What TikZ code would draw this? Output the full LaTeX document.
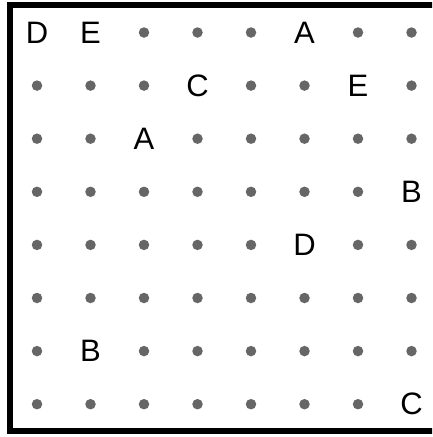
\documentclass[tikz,border=0pt]{standalone}
\usepackage{fontspec}
\setmainfont{Liberation Sans}
\definecolor{dotgray}{HTML}{666666}
\begin{document}
\begin{tikzpicture}[x=1pt,y=1pt,
  dotmark/.style={circle,fill=dotgray,inner sep=0pt,minimum size=10.5pt},
  letter/.style={inner sep=0pt,font=\fontsize{31}{31}\selectfont},
  frame/.style={draw=black,line width=6pt}]
\useasboundingbox (0,0) rectangle (432,-437);
\begin{scope}
\clip (0,0) rectangle (432,-437);
\draw[frame] (10,-4.5) rectangle (445,-430.5);
\end{scope}
\def\dotsym{o}
\foreach \r/\row in {1/{D,E,o,o,o,A,o,o},
                     2/{o,o,o,C,o,o,E,o},
                     3/{o,o,A,o,o,o,o,o},
                     4/{o,o,o,o,o,o,o,B},
                     5/{o,o,o,o,o,D,o,o},
                     6/{o,o,o,o,o,o,o,o},
                     7/{o,B,o,o,o,o,o,o},
                     8/{o,o,o,o,o,o,o,C}}{
  \foreach \t [count=\c] in \row {
    \edef\cur{\t}%
    \ifx\cur\dotsym
      \node[dotmark] (P\r\c) at ({37+53.5*(\c-1)},{-32.5-53.1*(\r-1)}) {};
    \else
      \node[letter] (L\r\c) at ({37+53.5*(\c-1)},{-32.5-53.1*(\r-1)}) {\t};
    \fi
  }
}
\end{tikzpicture}
\end{document}
